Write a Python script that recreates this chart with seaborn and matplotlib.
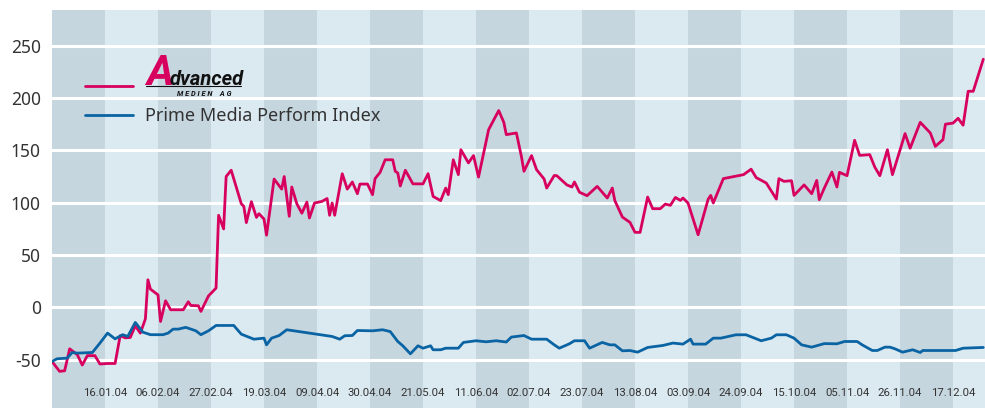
import pandas as pd
import matplotlib.pyplot as plt
import seaborn as sns
from matplotlib.lines import Line2D

# Advanced Medien AG share price
red_dates = [
    '2003-12-26', '2003-12-29', '2003-12-31', '2004-01-02', '2004-01-05', '2004-01-07',
    '2004-01-09', '2004-01-12', '2004-01-14', '2004-01-17', '2004-01-20', '2004-01-22',
    '2004-01-24', '2004-01-26', '2004-01-28', '2004-01-30', '2004-02-01', '2004-02-02',
    '2004-02-03', '2004-02-06', '2004-02-07', '2004-02-09', '2004-02-11', '2004-02-16',
    '2004-02-18', '2004-02-19', '2004-02-22', '2004-02-23', '2004-02-26', '2004-02-29',
    '2004-03-01', '2004-03-03', '2004-03-04', '2004-03-06', '2004-03-10', '2004-03-11',
    '2004-03-12', '2004-03-14', '2004-03-16', '2004-03-17', '2004-03-19', '2004-03-20',
    '2004-03-23', '2004-03-26', '2004-03-27', '2004-03-29', '2004-03-30', '2004-04-01',
    '2004-04-03', '2004-04-05', '2004-04-06', '2004-04-08', '2004-04-11', '2004-04-13',
    '2004-04-14', '2004-04-15', '2004-04-16', '2004-04-19', '2004-04-21', '2004-04-23',
    '2004-04-25', '2004-04-26', '2004-04-29', '2004-05-01', '2004-05-02', '2004-05-04',
    '2004-05-06', '2004-05-09', '2004-05-10', '2004-05-11', '2004-05-12', '2004-05-14',
    '2004-05-17', '2004-05-21', '2004-05-23', '2004-05-25', '2004-05-28', '2004-05-30',
    '2004-05-31', '2004-06-02', '2004-06-04', '2004-06-05', '2004-06-08', '2004-06-10',
    '2004-06-12', '2004-06-16', '2004-06-20', '2004-06-22', '2004-06-23', '2004-06-27',
    '2004-06-29', '2004-06-30', '2004-07-03', '2004-07-05', '2004-07-08', '2004-07-09',
    '2004-07-12', '2004-07-13', '2004-07-17', '2004-07-19', '2004-07-20', '2004-07-22',
    '2004-07-25', '2004-07-29', '2004-08-02', '2004-08-04', '2004-08-05', '2004-08-08',
    '2004-08-11', '2004-08-13', '2004-08-15', '2004-08-18', '2004-08-20', '2004-08-23',
    '2004-08-25', '2004-08-27', '2004-08-29', '2004-08-31', '2004-09-01', '2004-09-03',
    '2004-09-07', '2004-09-11', '2004-09-12', '2004-09-13', '2004-09-17', '2004-09-25',
    '2004-09-28', '2004-09-30', '2004-10-04', '2004-10-08', '2004-10-09', '2004-10-11',
    '2004-10-14', '2004-10-15', '2004-10-19', '2004-10-22', '2004-10-24', '2004-10-25',
    '2004-10-27', '2004-10-30', '2004-11-01', '2004-11-02', '2004-11-05', '2004-11-08',
    '2004-11-10', '2004-11-14', '2004-11-16', '2004-11-18', '2004-11-21', '2004-11-23',
    '2004-11-28', '2004-11-30', '2004-12-04', '2004-12-08', '2004-12-10', '2004-12-13',
    '2004-12-14', '2004-12-17', '2004-12-19', '2004-12-21', '2004-12-23', '2004-12-25',
    '2004-12-29',
]
red_values = [
    -51.6, -61, -60.5, -39.5, -45, -55,
    -46, -46, -54, -53.5, -53.5, -27,
    -29, -28.7, -17.5, -24.5, -11, 26.4,
    17.5, 12, -13.4, 6.4, -2.2, -2.2,
    5.4, 1.9, 1.6, -3.8, 11, 18.5,
    88, 75, 125, 131, 99, 96.5,
    81, 101, 86, 89.5, 84.4, 69,
    122.6, 113, 125, 87, 115, 99,
    90, 100.6, 85.4, 99.7, 101.3, 104,
    88, 99.7, 88, 127.7, 113, 119.8,
    108.6, 117.8, 117.8, 107.7, 123, 129,
    141, 141, 130, 128.4, 116, 131,
    118, 118, 127.7, 106, 102, 114,
    107.7, 141, 126.8, 150.6, 138, 145,
    124.5, 169.8, 188, 176.8, 165, 166.6,
    144, 130, 145, 131.5, 122.6, 114,
    126, 125.8, 117, 115, 119.8, 110,
    106.7, 115.6, 104.5, 114, 102, 86.3,
    81.2, 71.7, 71.7, 105.4, 94.3, 94.3,
    98.7, 97.5, 105, 102.2, 104.5, 99.7,
    69.4, 103.5, 107, 99.7, 123, 126.8,
    132, 124, 118.8, 103.5, 123, 120.4,
    121, 107, 117, 108.6, 121.3, 102.9,
    114, 129.3, 115, 129, 125.8, 159.6,
    145.2, 145.9, 134, 125.8, 150.6, 126.8,
    166, 152, 176.8, 166.6, 153.8, 160.2,
    175, 176, 180.6, 174, 206.4, 206.4,
    237,
]

# Prime Media Perform Index
blue_dates = [
    '2003-12-26', '2003-12-28', '2004-01-01', '2004-01-03', '2004-01-05', '2004-01-11',
    '2004-01-14', '2004-01-17', '2004-01-20', '2004-01-23', '2004-01-25', '2004-01-28',
    '2004-01-31', '2004-02-03', '2004-02-08', '2004-02-10', '2004-02-12', '2004-02-14',
    '2004-02-17', '2004-02-21', '2004-02-23', '2004-02-26', '2004-02-29', '2004-03-07',
    '2004-03-10', '2004-03-15', '2004-03-19', '2004-03-20', '2004-03-22', '2004-03-25',
    '2004-03-28', '2004-04-15', '2004-04-18', '2004-04-20', '2004-04-23', '2004-04-25',
    '2004-05-01', '2004-05-05', '2004-05-08', '2004-05-11', '2004-05-13', '2004-05-16',
    '2004-05-19', '2004-05-21', '2004-05-24', '2004-05-25', '2004-05-28', '2004-05-30',
    '2004-06-04', '2004-06-06', '2004-06-11', '2004-06-15', '2004-06-19', '2004-06-23',
    '2004-06-25', '2004-06-30', '2004-07-03', '2004-07-09', '2004-07-12', '2004-07-14',
    '2004-07-18', '2004-07-20', '2004-07-24', '2004-07-26', '2004-07-31', '2004-08-03',
    '2004-08-05', '2004-08-08', '2004-08-11', '2004-08-14', '2004-08-18', '2004-08-24',
    '2004-08-28', '2004-09-01', '2004-09-04', '2004-09-05', '2004-09-10', '2004-09-13',
    '2004-09-16', '2004-09-22', '2004-09-26', '2004-10-02', '2004-10-06', '2004-10-08',
    '2004-10-12', '2004-10-15', '2004-10-18', '2004-10-22', '2004-10-27', '2004-11-01',
    '2004-11-04', '2004-11-09', '2004-11-11', '2004-11-15', '2004-11-17', '2004-11-20',
    '2004-11-22', '2004-11-24', '2004-11-27', '2004-12-01', '2004-12-04', '2004-12-05',
    '2004-12-18', '2004-12-21', '2004-12-29',
]
blue_values = [
    -51.6, -49, -48.4, -43, -43.6, -43,
    -34, -24.5, -30, -26, -27.7, -14.3,
    -23.6, -26, -26, -24.5, -20.7, -20.7,
    -19, -22.3, -26, -22.3, -17.2, -17.2,
    -25.5, -30.3, -29.3, -35.7, -29.3, -26.8,
    -21.3, -27.7, -30.3, -27, -26.8, -22,
    -22.3, -21.3, -23, -32.5, -36.6, -44.3,
    -36.6, -38.9, -36.6, -40.4, -40.4, -38.9,
    -38.9, -33.4, -31.8, -32.8, -31.8, -33,
    -28.3, -26.8, -30.3, -30.3, -35.7, -38.9,
    -34.7, -31.8, -31.8, -38.9, -33.4, -35.7,
    -35.7, -41.4, -41.1, -42.7, -38.2, -36.3,
    -34, -35, -30.3, -35, -35, -29.3,
    -29.3, -26.1, -26.1, -31.8, -29.3, -26.1,
    -26.1, -29.3, -35.7, -37.9, -34.5, -34.7,
    -32.5, -32.5, -35.7, -41.1, -41.1, -37.9,
    -37.9, -39.5, -42.7, -40.4, -43, -41.1,
    -41.1, -38.9, -38.2,
]

tick_labels = [
    '16.01.04', '06.02.04', '27.02.04', '19.03.04', '09.04.04', '30.04.04',
    '21.05.04', '11.06.04', '02.07.04', '23.07.04', '13.08.04', '03.09.04',
    '24.09.04', '15.10.04', '05.11.04', '26.11.04', '17.12.04',
]
y_ticks = [-50, 0, 50, 100, 150, 200, 250]
series_names = ['Advanced Medien AG', 'Prime Media Perform Index']

RED = '#d7005e'
BLUE = '#0a64a3'
BAND_DARK = '#c6d6df'
BAND_LIGHT = '#dbe9f1'
TEXT = '#333333'


def draw_chart():
    red = pd.DataFrame({'date': pd.to_datetime(red_dates), 'value': red_values, 'series': series_names[0]})
    blue = pd.DataFrame({'date': pd.to_datetime(blue_dates), 'value': blue_values, 'series': series_names[1]})
    df = pd.concat([red, blue], ignore_index=True)

    sns.set_style('white')
    plt.rcParams['font.family'] = ['Noto Sans', 'DejaVu Sans']

    fig = plt.figure(figsize=(9.85, 4.08), dpi=100)
    ax = fig.add_axes([52 / 985, 0, 933 / 985, 398 / 408])
    ax.set_facecolor(BAND_LIGHT)

    sns.lineplot(data=df, x='date', y='value', hue='series',
                 palette={series_names[0]: RED, series_names[1]: BLUE},
                 estimator=None, sort=False, linewidth=2, ax=ax, zorder=3, legend=False)

    # alternating three-week bands
    ticks = pd.to_datetime(tick_labels, format='%d.%m.%y')
    step = pd.Timedelta(days=21)
    start = ticks[0] - step
    for k in range(0, 18, 2):
        ax.axvspan(start + k * step, start + (k + 1) * step, color=BAND_DARK, lw=0, zorder=0)

    for y in y_ticks:
        ax.axhline(y, color='white', lw=2.2, zorder=1)

    ax.set_xlim(start, pd.Timestamp('2004-12-29 16:00'))
    ax.set_ylim(-96, 284)
    ax.set_xticks(ticks)
    ax.set_xticklabels(tick_labels, family=['Roboto', 'DejaVu Sans'],
                       fontsize=8.2, color=TEXT)
    ax.set_yticks(y_ticks)
    ax.set_yticklabels([str(v) for v in y_ticks], fontsize=12.5, color=TEXT)
    ax.tick_params(axis='x', length=0, pad=-14.5)
    ax.tick_params(axis='y', length=0, pad=8)
    ax.set_xlabel('')
    ax.set_ylabel('')
    for s in ax.spines.values():
        s.set_visible(False)

    # legend, first label is replaced by the logo
    handles = [Line2D([], [], color=RED, lw=2), Line2D([], [], color=BLUE, lw=2)]
    ax.legend(handles, [' ', series_names[1]], loc='upper left',
              bbox_to_anchor=(0.0354, 0.8295), frameon=False, fontsize=13,
              handlelength=2.66, handletextpad=0.66, labelspacing=0.64,
              borderpad=0, borderaxespad=0, labelcolor=TEXT)

    logo_font = ['Roboto', 'DejaVu Sans']
    ax.text(0.1005, 0.8116, 'A', transform=ax.transAxes, color=RED, fontsize=30,
            fontweight='bold', fontstyle='italic', family=logo_font, va='baseline', zorder=5)
    ax.text(0.1265, 0.8116, 'dvanced', transform=ax.transAxes, color='#111111', fontsize=14.5,
            fontweight='bold', fontstyle='italic', family=logo_font, va='baseline', zorder=5)
    ax.plot([0.1005, 0.2026], [0.808, 0.808], transform=ax.transAxes, color='#111111', lw=0.8, zorder=5)
    ax.text(0.163, 0.7895, 'M E D I E N    A G', transform=ax.transAxes, color='#111111', fontsize=5.3,
            fontweight='bold', fontstyle='italic', family=logo_font, ha='center', va='center', zorder=5)

    plt.savefig('out.png', dpi=100)


if __name__ == "__main__":
    draw_chart()
